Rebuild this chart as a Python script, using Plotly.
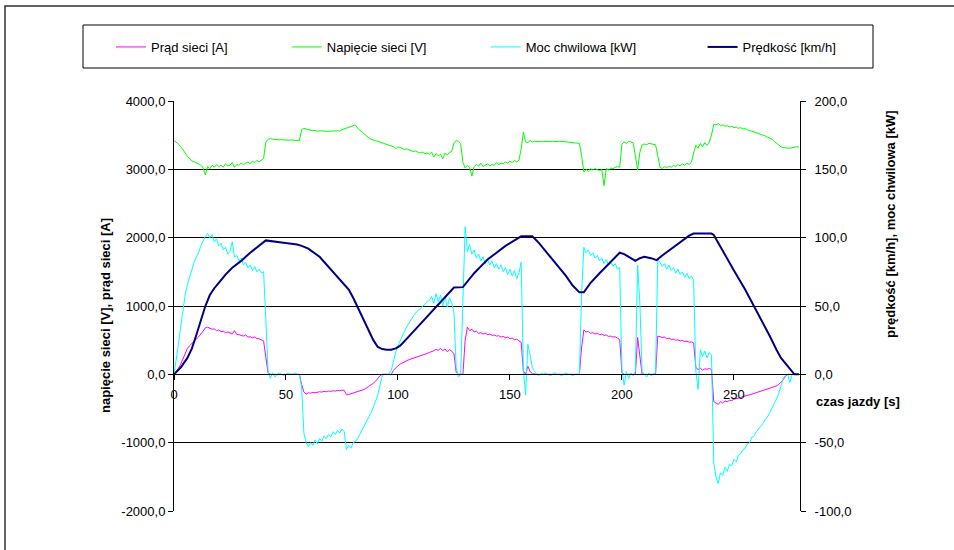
import plotly.graph_objects as go

# Czas jazdy [s] - probki co 1 s
czas = list(range(0, 280))

# Prad sieci [A]
prad = [
    0, 40, 90, 150, 230, 310, 380, 420, 450, 480,
    520, 550, 590, 640, 680, 690, 670, 660, 665, 640,
    650, 625, 630, 610, 620, 600, 590, 640, 585, 580,
    570, 560, 575, 545, 550, 535, 545, 525, 520, 510,
    490, 250, 20, 0, 5, 0, -5, 0, 0, 0,
    0, 0, 0, 0, 0, 0, 0, -150, -260, -290,
    -270, -275, -265, -270, -260, -255, -260, -250, -255, -245,
    -250, -240, -245, -235, -240, -230, -235, -300, -295, -285,
    -280, -270, -260, -245, -235, -220, -200, -180, -160, -130,
    -100, -60, -20, 0, 0, 0, 0, 0, 60, 100,
    125, 150, 170, 185, 200, 215, 225, 240, 250, 260,
    270, 280, 295, 305, 320, 330, 345, 365, 350, 380,
    345, 370, 330, 360, 340, 300, 30, 0, 0, 0,
    500, 690, 640, 660, 620, 630, 600, 610, 590, 600,
    580, 590, 570, 575, 560, 565, 545, 555, 535, 545,
    520, 530, 505, 515, 490, 470, 50, 0, 120, 40,
    10, 0, 0, 0, 0, 0, 0, 0, 0, 0,
    0, 0, 0, 0, 0, 0, 0, 0, 0, 0,
    0, 0, 400, 650, 620, 630, 600, 610, 590, 600,
    580, 590, 570, 575, 555, 560, 545, 550, 530, 510,
    20, 0, 0, 0, 0, 0, 0, 540, 300, 0,
    0, 0, 0, 0, 0, 0, 560, 550, 540, 545,
    520, 530, 510, 515, 500, 505, 490, 495, 480, 485,
    470, 475, 460, 100, 70, 90, 60, 80, 75, 85,
    70, -400, -420, -440, -400, -420, -390, -400, -380, -385,
    -365, -360, -345, -340, -325, -320, -305, -300, -290, -280,
    -270, -260, -250, -240, -230, -220, -210, -200, -185, -170,
    -150, -120, -80, -30, 0, 0, 0, 0, 0, 0,
]

# Napiecie sieci [V]
napiecie = [
    3420, 3400, 3370, 3330, 3290, 3240, 3190, 3150, 3120, 3110,
    3100, 3080, 3060, 3020, 2920, 3040, 3010, 3060, 3030, 3070,
    3040, 3060, 3030, 3080, 3050, 3060, 3100, 3030, 3070, 3060,
    3090, 3070, 3090, 3110, 3080, 3120, 3100, 3130, 3110, 3140,
    3160, 3400, 3440, 3450, 3440, 3435, 3440, 3430, 3435, 3430,
    3430, 3425, 3430, 3425, 3420, 3425, 3420, 3580, 3600, 3590,
    3580, 3570, 3565, 3570, 3560, 3565, 3560, 3555, 3560, 3555,
    3560, 3555, 3560, 3565, 3560, 3580, 3590, 3600, 3610, 3620,
    3630, 3650, 3600, 3570, 3550, 3520, 3490, 3460, 3440, 3425,
    3420, 3410, 3400, 3390, 3370, 3360, 3350, 3340, 3330, 3300,
    3330, 3320, 3300, 3290, 3300, 3280, 3270, 3260, 3270, 3250,
    3240, 3250, 3230, 3240, 3220, 3250, 3180, 3230, 3200, 3220,
    3150, 3240, 3210, 3250, 3260, 3390, 3420, 3410, 3380, 3100,
    3020, 3060, 3030, 2900, 3040, 3070, 3050, 3090, 3040, 3060,
    3080, 3050, 3070, 3060, 3100, 3070, 3090, 3080, 3110, 3090,
    3120, 3100, 3130, 3110, 3130, 3300, 3540, 3400, 3390, 3420,
    3400, 3410, 3405, 3410, 3405, 3410, 3405, 3410, 3405, 3410,
    3405, 3410, 3405, 3410, 3405, 3400, 3400, 3395, 3390, 3385,
    3380, 3380, 3200, 2960, 3000, 2970, 3010, 2990, 3010, 2990,
    2980, 3000, 2760, 3010, 2990, 3020, 3010, 3030, 3040, 3030,
    3370, 3400, 3380, 3410, 3400, 3390, 3200, 2990, 3250, 3360,
    3370, 3360, 3380, 3370, 3370, 3360, 3200, 3030, 3010, 3040,
    3020, 3050, 3030, 3060, 3040, 3070, 3050, 3080, 3060, 3090,
    3070, 3100, 3240, 3350, 3310, 3380, 3330, 3390, 3350, 3400,
    3500, 3660, 3650, 3670, 3640, 3650, 3630, 3640, 3620, 3630,
    3610, 3620, 3600, 3610, 3590, 3595, 3580, 3570, 3560, 3550,
    3540, 3530, 3510, 3500, 3490, 3470, 3460, 3440, 3410, 3380,
    3350, 3330, 3320, 3310, 3310, 3310, 3320, 3320, 3330, 3330,
]

# Moc chwilowa [kW]
moc = [
    0, 10, 22, 35, 48, 58, 66, 72, 77, 82,
    86, 89, 94, 98, 101, 103, 100, 102, 97, 99,
    94, 96, 91, 93, 88, 90, 97, 86, 87, 83,
    85, 80, 82, 78, 80, 76, 79, 75, 77, 74,
    75, 40, 2, -3, 1, -2, 0, 1, 0, -1,
    0, 1, 0, 0, 1, 0, 0, -10, -43, -50,
    -53, -50, -52, -48, -51, -47, -49, -45, -47, -44,
    -46, -42, -44, -41, -43, -40, -42, -55, -52, -54,
    -50, -49, -47, -44, -41, -38, -35, -31, -28, -24,
    -19, -15, -8, -1, 0, 0, 0, 3, 10, 16,
    21, 25, 29, 32, 35, 38, 41, 43, 45, 47,
    48, 50, 51, 53, 54, 57, 52, 59, 53, 58,
    50, 57, 49, 56, 52, 45, 5, -2, 0, 60,
    108, 90, 95, 88, 91, 85, 88, 83, 86, 81,
    84, 80, 83, 78, 81, 77, 80, 75, 78, 73,
    77, 72, 76, 70, 74, 82, 3, -15, 22, 14,
    5, 2, 0, -1, 1, 0, 1, 0, -1, 0,
    1, 0, 0, -1, 0, 1, 0, 0, -1, 0,
    0, 0, 60, 93, 89, 91, 87, 89, 85, 87,
    83, 85, 81, 84, 80, 82, 79, 81, 77, 78,
    3, -8, 2, -3, 1, -1, 2, 80, 52, 2,
    0, -2, 1, -1, 0, 1, 84, 82, 79, 81,
    77, 80, 76, 78, 74, 77, 73, 75, 71, 74,
    70, 72, 69, 2, -11, 18, 13, 17, 12, 16,
    14, -65, -75, -80, -72, -74, -68, -71, -66, -67,
    -62, -64, -59, -58, -55, -54, -51, -50, -46, -45,
    -42, -40, -38, -36, -33, -31, -28, -25, -22, -18,
    -14, -8, -3, -1, 0, -6, 0, 0, 0, 0,
]

# Predkosc [km/h] - punkty charakterystyczne przebiegu
czas_v = [
    0, 3, 6, 8, 10, 12, 14, 16, 18, 20,
    23, 26, 30, 34, 38, 41, 48, 55, 57, 60,
    65, 70, 75, 78, 80, 83, 86, 89, 91, 93,
    95, 97, 99, 101, 105, 110, 115, 118, 121, 124,
    125, 129, 131, 134, 137, 140, 144, 148, 152, 155,
    160, 163, 167, 171, 175, 178, 181, 183, 186, 190,
    194, 197, 199, 201, 204, 206, 208, 210, 213, 215.5,
    218, 222, 226, 230, 232, 240, 241, 245, 250, 255,
    258, 262, 266, 269, 271, 273, 275, 277, 279,
]
predkosc = [
    0, 5, 12, 19, 29, 40, 50, 58, 63, 67,
    73, 78, 83, 89, 94, 98, 96.5, 95, 94, 92,
    86, 77, 68, 62, 56, 46, 35, 25, 20, 18.5,
    18, 18, 19, 21, 28, 37, 46, 51, 56, 62,
    63.5, 63.8, 68, 74, 79, 84, 89, 94, 98, 101,
    101, 96, 88, 80, 72, 65, 60, 60, 67, 74,
    81, 86, 89, 88, 85, 83, 85, 86, 85, 83.6,
    87, 92, 97, 101.5, 103, 103, 102, 90, 76, 62,
    53, 40, 28, 18, 12, 8, 4, 0, 0,
]

# Podzialki osi
ticks_lewa = [-2000, -1000, 0, 1000, 2000, 3000, 4000]
ticks_prawa = [-100, -50, 0, 50, 100, 150, 200]
ticks_czas = [0, 50, 100, 150, 200, 250]

nazwy = ["Prąd sieci [A]", "Napięcie sieci [V]", "Moc chwilowa [kW]", "Prędkość [km/h]"]
kolory = ["#FF00FF", "#00FF00", "#00FFFF", "#000080"]

FONT = "Liberation Sans, Arial, sans-serif"
NBSP = "\u00a0"
odstep = [15, 15, 17, 0]


def etykieta(v):
    # format z przecinkiem dziesietnym i zwyklym lacznikiem jako minusem
    return f"{v:.1f}".replace(".", ",")


fig = go.Figure()
fig.add_trace(go.Scatter(x=czas, y=prad, name=nazwy[0] + NBSP * odstep[0], mode="lines",
                         line=dict(color=kolory[0], width=1), yaxis="y"))
fig.add_trace(go.Scatter(x=czas, y=napiecie, name=nazwy[1] + NBSP * odstep[1], mode="lines",
                         line=dict(color=kolory[1], width=1), yaxis="y"))
fig.add_trace(go.Scatter(x=czas, y=moc, name=nazwy[2] + NBSP * odstep[2], mode="lines",
                         line=dict(color=kolory[2], width=1), yaxis="y2"))
fig.add_trace(go.Scatter(x=czas_v, y=predkosc, name=nazwy[3], mode="lines",
                         line=dict(color=kolory[3], width=2), yaxis="y2"))

# pixel -> paper helpers for the fixed 954x550 canvas
L, R, T, B = 174, 154, 101, 39
W, H = 954, 550
pw, ph = W - L - R, H - T - B


def px(x):
    return (x - L) / pw


def py(y):
    return (H - B - y) / ph


fig.update_layout(
    width=W, height=H,
    margin=dict(l=L, r=R, t=T, b=B, pad=0),
    paper_bgcolor="white", plot_bgcolor="white",
    font=dict(family=FONT, size=13, color="black"),
    showlegend=True,
    legend=dict(orientation="h", x=px(111), y=py(47), xanchor="left", yanchor="middle",
                bgcolor="rgba(0,0,0,0)", borderwidth=0, font=dict(size=13),
                itemwidth=30, traceorder="normal"),
    xaxis=dict(range=[0, 279.5], tickvals=ticks_czas, ticktext=[str(v) for v in ticks_czas],
               anchor="free", position=1 / 3,
               showline=True, linecolor="black", linewidth=1,
               ticks="outside", ticklen=5, tickcolor="black", ticklabelstandoff=3,
               showgrid=False, zeroline=False,
               tickfont=dict(size=13)),
    yaxis=dict(range=[-2000, 4000], tickvals=ticks_lewa,
               ticktext=[etykieta(v) for v in ticks_lewa],
               showline=True, linecolor="black", linewidth=1,
               ticks="outside", ticklen=5, tickcolor="black",
               showgrid=True, gridcolor="black", gridwidth=1,
               zeroline=False, tickfont=dict(size=13)),
    yaxis2=dict(range=[-100, 200], tickvals=ticks_prawa,
                ticktext=[etykieta(v) for v in ticks_prawa],
                overlaying="y", side="right", anchor="x",
                showline=True, linecolor="black", linewidth=1,
                ticks="outside", ticklen=5, tickcolor="black", ticklabelstandoff=6,
                showgrid=False, zeroline=False, tickfont=dict(size=13)),
    shapes=[
        # ramka wykresu
        dict(type="rect", xref="paper", yref="paper",
             x0=px(5), x1=px(962), y0=py(562), y1=py(6),
             line=dict(color="#303030", width=1.5), fillcolor="rgba(0,0,0,0)", layer="below"),
        # ramka legendy
        dict(type="rect", xref="paper", yref="paper",
             x0=px(83), x1=px(873), y0=py(68), y1=py(25),
             line=dict(color="black", width=1), fillcolor="rgba(0,0,0,0)"),
    ],
    annotations=[
        dict(text="<b>napięcie sieci [V], prąd sieci [A]</b>", xref="paper", yref="paper",
             x=px(105), y=py(316), textangle=-90, showarrow=False,
             xanchor="center", yanchor="middle", font=dict(size=13)),
        dict(text="<b>prędkość [km/h], moc chwilowa [kW]</b>", xref="paper", yref="paper",
             x=px(890), y=py(224), textangle=-90, showarrow=False,
             xanchor="center", yanchor="middle", font=dict(size=13)),
        dict(text="<b>czas jazdy [s]</b>", xref="paper", yref="paper",
             x=px(814), y=py(401), showarrow=False,
             xanchor="left", yanchor="middle", font=dict(size=13)),
    ],
)

fig.write_html("out.html")
